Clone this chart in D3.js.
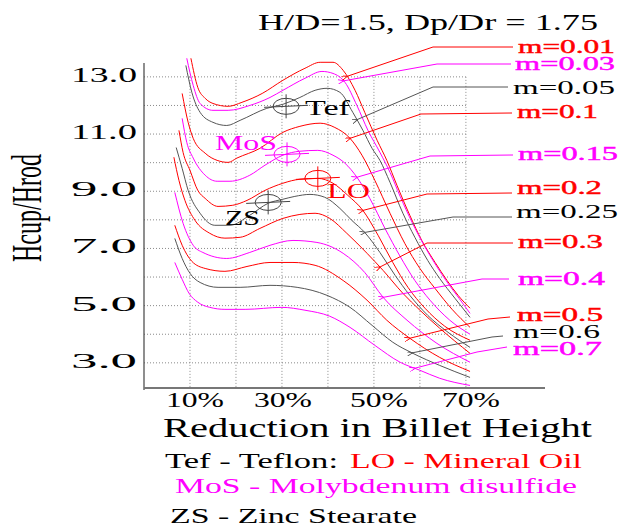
<!DOCTYPE html>
<html>
<head>
<meta charset="utf-8">
<script src="https://cdn.jsdelivr.net/npm/d3@7"></script>
<style>
  body { margin: 0; background: #fff; }
  svg { display: block; }
  text { font-family: "Liberation Serif", "Times New Roman", serif; }
</style>
</head>
<body>
<script>
// chart data: x = reduction (%), y = Hcup/Hrod
const mValues = ["0.01", "0.03", "0.05", "0.1", "0.15", "0.2", "0.25", "0.3", "0.4", "0.5", "0.6", "0.7"];
const curveColors = ["red", "magenta", "gray", "red", "magenta", "red", "gray", "red", "magenta", "red", "gray", "magenta"];

const m001 = [[10.2,13.65],[11.7,12.63],[13.3,12.25],[15.0,12.07],[18.3,11.97],[21.3,12.11],[25.7,12.42],[30.2,12.88],[35.0,13.30],[38.3,13.51],[41.1,13.51],[43.3,13.23],[45.9,12.53],[48.0,11.76],[50.7,10.78],[52.8,10.08],[55.0,9.21],[57.8,8.16],[60.4,7.28],[63.3,6.51],[65.9,5.88],[68.3,5.36],[70.9,4.91]];
const m003 = [[9.3,13.65],[10.7,12.70],[12.2,12.07],[15.0,11.83],[18.3,11.83],[23.0,12.00],[27.4,12.28],[30.2,12.53],[35.0,12.95],[38.7,13.19],[41.1,13.12],[43.7,12.81],[46.3,12.00],[48.7,11.13],[51.3,10.36],[53.5,9.66],[55.7,8.82],[58.3,7.91],[60.9,7.11],[63.5,6.41],[66.1,5.78],[68.5,5.26],[70.9,4.73]];
const m005 = [[9.1,13.40],[10.4,12.46],[12.2,11.76],[15.0,11.41],[18.0,11.30],[20.9,11.48],[26.7,11.90],[30.2,12.04],[33.9,12.28],[37.2,12.53],[39.8,12.60],[42.6,12.46],[45.4,11.76],[47.6,11.13],[49.6,10.50],[51.3,10.08],[53.5,9.31],[56.3,8.23],[58.9,7.39],[61.7,6.58],[64.3,5.95],[67.6,5.26],[70.9,4.59]];
const m010 = [[8.3,12.42],[9.6,11.41],[10.7,10.85],[13.3,10.33],[15.9,10.08],[18.3,10.01],[20.2,10.16],[25.2,10.50],[30.2,11.06],[33.9,11.27],[38.3,11.38],[41.5,11.23],[44.8,10.85],[47.4,10.26],[50.2,9.38],[53.5,8.23],[56.7,7.18],[60.0,6.30],[63.3,5.60],[67.0,4.87],[70.9,4.24]];
const m015 = [[8.3,11.55],[9.3,10.71],[10.7,10.16],[13.3,9.56],[15.9,9.35],[18.7,9.35],[23.0,9.56],[26.3,9.91],[30.2,10.26],[33.9,10.40],[37.8,10.43],[41.1,10.26],[43.7,9.98],[46.3,9.49],[49.1,8.75],[52.4,7.70],[55.7,6.72],[58.9,5.88],[62.2,5.19],[66.5,4.49],[70.9,4.00]];
const m020 = [[7.6,11.13],[8.5,10.36],[10.0,9.73],[11.7,9.03],[13.3,8.75],[16.1,8.47],[19.3,8.51],[22.4,8.68],[26.3,9.03],[30.2,9.28],[33.9,9.42],[37.8,9.45],[41.1,9.28],[44.3,8.86],[47.6,8.33],[50.9,7.46],[54.1,6.51],[57.4,5.64],[61.1,4.91],[65.4,4.28],[70.9,3.79]];
const m025 = [[7.0,10.53],[8.3,9.80],[9.6,9.03],[12.2,8.23],[15.4,7.81],[18.7,7.81],[23.0,8.16],[27.0,8.58],[30.2,8.72],[32.8,8.82],[36.1,8.89],[39.3,8.79],[42.6,8.40],[45.2,7.98],[48.0,7.56],[51.3,6.86],[54.6,6.06],[57.8,5.36],[61.7,4.66],[66.1,4.07],[70.9,3.54]];
const m030 = [[6.5,10.19],[7.6,9.38],[8.9,8.68],[11.1,7.98],[14.3,7.53],[17.6,7.36],[20.9,7.39],[25.2,7.70],[30.2,8.05],[33.9,8.19],[37.2,8.23],[40.4,8.05],[44.1,7.53],[48.5,6.83],[52.0,6.23],[56.3,5.43],[60.0,4.84],[64.3,4.21],[70.9,3.33]];
const m040 = [[6.7,8.96],[8.5,7.88],[10.7,7.11],[12.8,6.86],[18.0,6.65],[23.0,6.86],[27.4,7.11],[32.4,7.28],[37.6,7.21],[43.3,6.83],[48.0,6.16],[52.0,5.29],[57.2,4.49],[63.7,3.68],[70.9,3.02]];
const m050 = [[6.7,7.81],[8.3,7.11],[10.4,6.55],[13.3,6.30],[17.6,6.20],[22.4,6.37],[27.4,6.51],[32.4,6.51],[37.2,6.41],[43.3,5.88],[48.5,5.19],[52.8,4.49],[57.8,3.86],[64.3,3.19],[70.9,2.70]];
const m060 = [[6.7,7.35],[8.3,6.65],[10.0,6.13],[12.2,5.81],[16.1,5.64],[20.9,5.64],[27.4,5.71],[33.3,5.64],[39.8,5.36],[44.8,4.94],[49.6,4.31],[54.1,3.72],[58.5,3.33],[64.3,2.91],[70.9,2.49]];
const m070 = [[6.7,6.51],[8.3,5.92],[9.8,5.43],[11.7,5.12],[14.3,4.94],[17.6,4.87],[22.0,4.87],[30.0,4.94],[35.0,4.84],[40.4,4.63],[44.8,4.24],[50.2,3.61],[55.7,3.02],[60.0,2.74],[64.3,2.46],[70.9,2.21]];
const curves = [m001, m003, m005, m010, m015, m020, m025, m030, m040, m050, m060, m070];

// where each label's leader line touches its curve (x in %)
const leaderX = [44.1, 43.3, 46.3, 44.8, 46.3, 47.6, 48.0, 51.3, 52.0, 57.8, 58.3, 58.9];

const xTicks = [10, 30, 50, 70];
const yTicks = [3, 5, 7, 9, 11, 13];
const gridX = [10, 20, 30, 40, 50, 60, 70];
const gridY = [3, 4, 5, 6, 7, 8, 9, 10, 11, 12, 13];

// lubricant test points
const lubCodes = ["Tef", "MoS", "LO", "ZS"];
const lubX = [30.9, 31.1, 37.8, 27.0];
const lubY = [11.97, 10.29, 9.45, 8.61];
const lubColors = ["#444", "magenta", "red", "#444"];

const W = 622, H = 524;
const colorMap = { red: "#ff0000", magenta: "#ff00ff", gray: "#555555" };
const textColor = { red: "#ff0000", magenta: "#ff00ff", gray: "#000000" };

let svg = d3.select("body").append("svg")
  .attr("width", W)
  .attr("height", H);

let x = d3.scaleLinear().domain([0, 87.2]).range([144, 545]);
let y = d3.scaleLinear().domain([2.05, 13.45]).range([390, 64]);

// stretch text horizontally, the original is wide
function fit(sel, w) {
  sel.attr("textLength", w).attr("lengthAdjust", "spacingAndGlyphs");
  return sel;
}

// grid
svg.append("g").selectAll("line.gy")
  .data(gridY).enter().append("line")
  .attr("x1", x(0)).attr("x2", x(70))
  .attr("y1", d => y(d)).attr("y2", d => y(d))
  .attr("stroke", "#8a8a8a").attr("stroke-dasharray", "1,2");
svg.append("g").selectAll("line.gx")
  .data(gridX).enter().append("line")
  .attr("x1", d => x(d)).attr("x2", d => x(d))
  .attr("y1", y(13)).attr("y2", 388)
  .attr("stroke", "#8a8a8a").attr("stroke-dasharray", "1,2");

// axes lines
svg.append("line").attr("x1", x(0)).attr("x2", x(0)).attr("y1", 63).attr("y2", 390)
  .attr("stroke", "#444").attr("stroke-width", 1.2);
svg.append("line").attr("x1", x(0)).attr("x2", x(87.2)).attr("y1", 388).attr("y2", 388)
  .attr("stroke", "#777").attr("stroke-width", 2);

// tick labels
svg.append("g").selectAll("text")
  .data(yTicks).enter().append("text")
  .attr("x", 137).attr("y", d => y(d) + 5)
  .attr("text-anchor", "end")
  .attr("font-size", 20)
  .text(d => d.toFixed(1))
  .call(fit, 66);
svg.append("g").selectAll("text")
  .data(xTicks).enter().append("text")
  .attr("x", (d, i) => x(d) + (i == 1 ? 1 : 5)).attr("y", 407)
  .attr("text-anchor", "middle")
  .attr("font-size", 20)
  .text(d => d + "%")
  .call(fit, 58);

// titles
svg.append("text").attr("x", 258).attr("y", 30).attr("font-size", 24)
  .text("H/D=1.5, Dp/Dr = 1.75").call(fit, 340);
svg.append("text").attr("x", 163).attr("y", 437).attr("font-size", 27)
  .text("Reduction in Billet Height").call(fit, 429);
svg.append("g").attr("transform", "translate(41,208) scale(1.75,1)")
  .append("text").attr("transform", "rotate(-90)")
  .attr("text-anchor", "middle").attr("font-size", 24)
  .text("Hcup/Hrod");

// curves
let line = d3.line()
  .x(d => x(d[0]))
  .y(d => y(d[1]))
  .curve(d3.curveMonotoneX);

svg.append("g").selectAll("path")
  .data(curves).enter().append("path")
  .attr("d", line)
  .attr("fill", "none")
  .attr("stroke", (d, i) => colorMap[curveColors[i]])
  .attr("stroke-width", 1);

// value on a curve at a given x (linear between read points)
function valueAt(pts, xv) {
  for (let i = 1; i < pts.length; i++) {
    if (pts[i][0] >= xv) {
      const t = (xv - pts[i - 1][0]) / (pts[i][0] - pts[i - 1][0]);
      return pts[i - 1][1] + t * (pts[i][1] - pts[i - 1][1]);
    }
  }
  return pts[pts.length - 1][1];
}

// m labels on the right with leader lines
const labelX = [518, 515, 513, 517, 518, 517, 516, 518, 518, 517, 513, 513];
const labelY = [53, 70, 94, 118, 160, 194, 218, 248, 285, 321, 338, 355];
const labelW = [97, 100, 102, 81, 100, 85, 102, 85, 87, 86, 87, 89];
const leadStart = [[513, 47], [511, 64], [508, 87], [512, 113], [513, 155], [512, 193], [512, 217], [513, 243], [509, 279], [510, 317], [503, 336], [507, 347]];
const leadElbow = [[433, 47], [437, 64], [433, 87], [421, 114], [430, 156], [427, 194], [453, 217], [427, 243], [482, 279], [488, 319], [492, 337], [477, 352]];

let defs = svg.append("defs");
["red", "magenta", "gray"].forEach(c => {
  defs.append("marker").attr("id", "arr-" + c)
    .attr("viewBox", "0 0 8 6").attr("refX", 1).attr("refY", 3)
    .attr("markerWidth", 6).attr("markerHeight", 4.5).attr("orient", "auto-start-reverse")
    .append("path").attr("d", "M8,0 L0,3 L8,6").attr("fill", "none")
    .attr("stroke", colorMap[c]).attr("stroke-width", 1.2);
});

let labels = svg.append("g");
mValues.forEach((m, i) => {
  const c = curveColors[i];
  const tx = x(leaderX[i]), ty = y(valueAt(curves[i], leaderX[i]));
  labels.append("polyline")
    .attr("points", [leadStart[i], leadElbow[i], [tx, ty]].map(p => p.join(",")).join(" "))
    .attr("fill", "none")
    .attr("stroke", colorMap[c])
    .attr("stroke-width", 1)
    .attr("marker-end", "url(#arr-" + c + ")");
  labels.append("text")
    .attr("x", labelX[i]).attr("y", labelY[i])
    .attr("font-size", 19.5)
    .attr("fill", textColor[c])
    .attr("stroke", c == "gray" ? "none" : textColor[c])
    .attr("stroke-width", 0.45)
    .text("m=" + m)
    .call(fit, labelW[i]);
});

// lubricant markers: ellipse with cross
const lubTextX = [305, 215, 327, 225];
const lubTextY = [115, 150, 198, 225];
const lubTextW = [45, 62, 43, 35];
let marks = svg.append("g");
lubCodes.forEach((code, i) => {
  const cx = x(lubX[i]), cy = y(lubY[i]);
  marks.append("ellipse").attr("cx", cx).attr("cy", cy).attr("rx", 13).attr("ry", 8)
    .attr("fill", "none").attr("stroke", lubColors[i]).attr("stroke-width", 1);
  marks.append("line").attr("x1", cx - 22).attr("x2", cx + 22).attr("y1", cy + 1).attr("y2", cy - 1)
    .attr("stroke", lubColors[i]).attr("stroke-width", 1);
  marks.append("line").attr("x1", cx).attr("x2", cx).attr("y1", cy - 12).attr("y2", cy + 12)
    .attr("stroke", lubColors[i]).attr("stroke-width", 1);
  marks.append("text").attr("x", lubTextX[i]).attr("y", lubTextY[i])
    .attr("font-size", 22)
    .attr("fill", lubColors[i] == "#444" ? "#000" : lubColors[i])
    .text(code).call(fit, lubTextW[i]);
});

// legend lines at the bottom
svg.append("text").attr("x", 165).attr("y", 468).attr("font-size", 22)
  .text("Tef - Teflon:").call(fit, 173);
svg.append("text").attr("x", 350).attr("y", 468).attr("font-size", 22).attr("fill", "#ff0000")
  .text("LO - Mineral Oil").call(fit, 232);
svg.append("text").attr("x", 175).attr("y", 493).attr("font-size", 22).attr("fill", "#ff00ff")
  .text("MoS - Molybdenum disulfide").call(fit, 402);
svg.append("text").attr("x", 170).attr("y", 523).attr("font-size", 22)
  .text("ZS - Zinc Stearate").call(fit, 247);
</script>
</body>
</html>
